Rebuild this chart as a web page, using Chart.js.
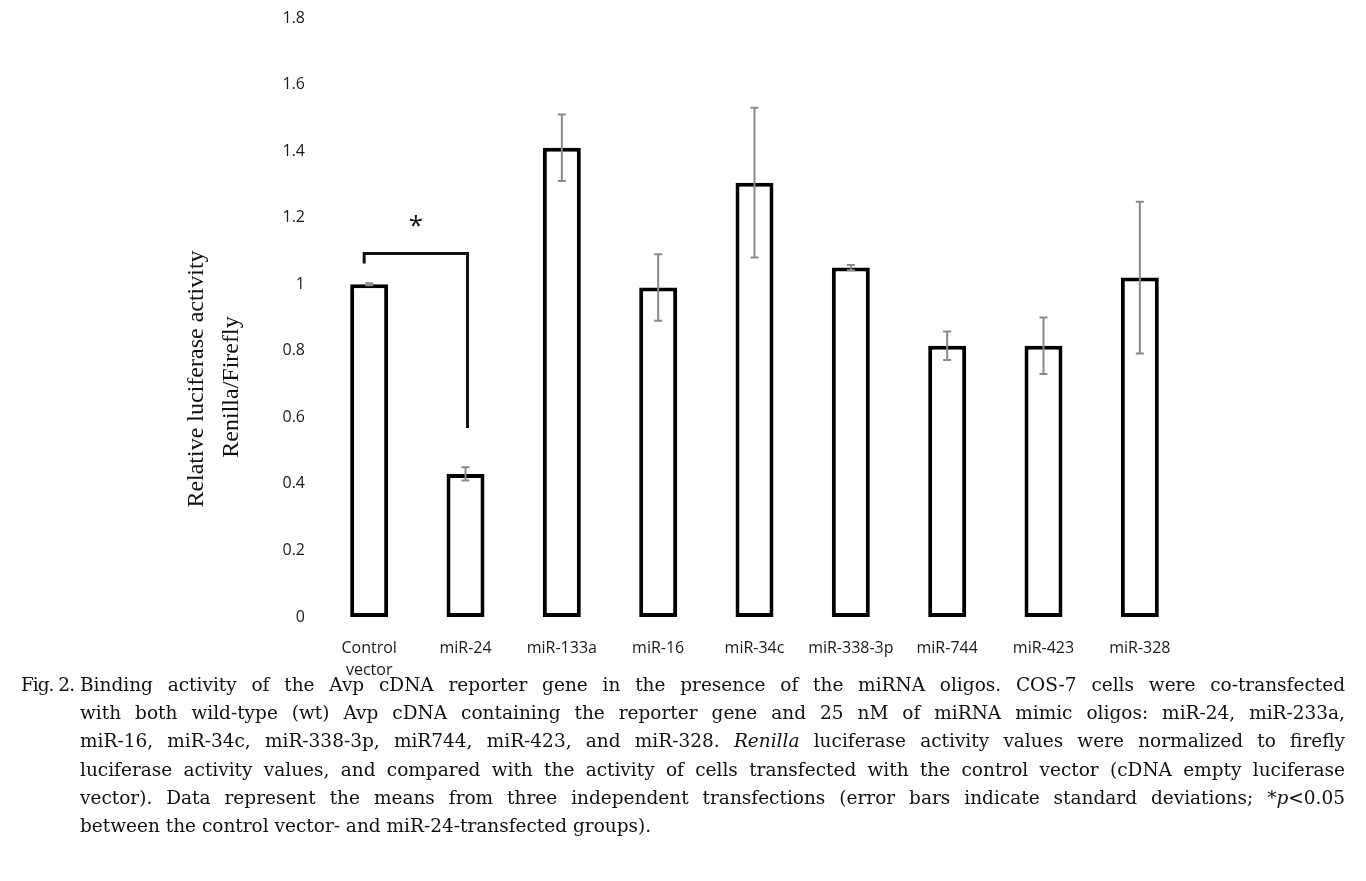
<!DOCTYPE html>
<html lang="en">
<head>
    <meta charset="UTF-8">
    <title>Fig. 2 Relative luciferase activity</title>
    <script src="https://cdn.jsdelivr.net/npm/chart.js"></script>
    <style>
        body { margin: 0; background: #fff; }
        #wrap { position: relative; width: 1366px; height: 881px; }
        #myChart { position: absolute; left: 0; top: 0; }
        #caption {
            position: absolute; left: 80px; top: 671px; width: 1265px;
            font-family: "DejaVu Serif", "Liberation Serif", serif;
            font-size: 18.5px; line-height: 28.2px; color: #111;
        }
        #caption div { white-space: nowrap; text-align: justify; text-align-last: justify; }
        #caption div.last { text-align-last: left; }
        #caption .fig { position: absolute; left: -59px; letter-spacing: -1px; }
    </style>
</head>
<body>
<div id="wrap">
    <canvas id="myChart" width="1366" height="680"></canvas>
    <div id="caption">
        <div><span class="fig">Fig. 2.</span>Binding activity of the Avp cDNA reporter gene in the presence of the miRNA oligos. COS-7 cells were co-transfected</div>
        <div>with both wild-type (wt) Avp cDNA containing the reporter gene and 25 nM of miRNA mimic oligos: miR-24, miR-233a,</div>
        <div>miR-16, miR-34c, miR-338-3p, miR744, miR-423, and miR-328. <i>Renilla</i> luciferase activity values were normalized to firefly</div>
        <div>luciferase activity values, and compared with the activity of cells transfected with the control vector (cDNA empty luciferase</div>
        <div>vector). Data represent the means from three independent transfections (error bars indicate standard deviations; *<i>p</i>&lt;0.05</div>
        <div class="last">between the control vector- and miR-24-transfected groups).</div>
    </div>
</div>

<script>
    const groups = [['Control', 'vector'], 'miR-24', 'miR-133a', 'miR-16', 'miR-34c', 'miR-338-3p', 'miR-744', 'miR-423', 'miR-328'];
    const meanActivity = [1.0, 0.43, 1.41, 0.99, 1.305, 1.05, 0.815, 0.815, 1.02];
    const sdActivity = [0.003, 0.02, 0.10, 0.10, 0.225, 0.008, 0.043, 0.085, 0.228];
    const yTitleLines = ['Relative luciferase activity', 'Renilla/Firefly'];

    // significance bracket between control (0) and miR-24 (1)
    const bracketTop = 1.092;
    const bracketLeftEnd = 1.062;
    const bracketRightEnd = 0.568;
    const starLevel = 1.182;

    const overlayPlugin = {
        id: 'overlay',
        afterDatasetsDraw(chart) {
            const c = chart.ctx;
            const xs = chart.scales.x;
            const ys = chart.scales.y;

            // error bars
            c.save();
            c.strokeStyle = '#8a8a8a';
            c.lineWidth = 2;
            meanActivity.forEach((m, i) => {
                const x = xs.getPixelForValue(i);
                const yHi = ys.getPixelForValue(m + sdActivity[i]);
                const yLo = ys.getPixelForValue(m - sdActivity[i]);
                c.beginPath();
                c.moveTo(x, yHi); c.lineTo(x, yLo);
                c.moveTo(x - 4, yHi); c.lineTo(x + 4, yHi);
                c.moveTo(x - 4, yLo); c.lineTo(x + 4, yLo);
                c.stroke();
            });
            c.restore();

            // bracket and star
            c.save();
            const x1 = xs.getPixelForValue(0) - 5;
            const x2 = xs.getPixelForValue(1) + 2;
            c.strokeStyle = '#111';
            c.lineWidth = 3;
            c.beginPath();
            c.moveTo(x1, ys.getPixelForValue(bracketLeftEnd));
            c.lineTo(x1, ys.getPixelForValue(bracketTop));
            c.lineTo(x2, ys.getPixelForValue(bracketTop));
            c.lineTo(x2, ys.getPixelForValue(bracketRightEnd));
            c.stroke();
            c.fillStyle = '#111';
            c.font = '26px "Open Sans"';
            c.textAlign = 'center';
            c.textBaseline = 'middle';
            c.fillText('*', (x1 + x2) / 2, ys.getPixelForValue(starLevel) + 3);
            c.restore();

            // y axis title
            [[yTitleLines[0], 197, 379], [yTitleLines[1], 232, 387]].forEach(([txt, tx, ty]) => {
                c.save();
                c.fillStyle = '#111';
                c.font = '24px "Liberation Serif"';
                c.textAlign = 'center';
                c.textBaseline = 'middle';
                c.translate(tx, ty);
                c.rotate(-Math.PI / 2);
                c.fillText(txt, 0, 0);
                c.restore();
            });
        }
    };

    // keep the plot area fixed: no automatic label padding
    function clearPadding(scale) {
        scale.paddingLeft = 0;
        scale.paddingRight = 0;
        scale.paddingTop = 0;
        scale.paddingBottom = 0;
    }

    const ctx = document.getElementById('myChart').getContext('2d');
    const myChart = new Chart(ctx, {
        type: 'bar',
        data: {
            labels: groups,
            datasets: [{
                data: meanActivity,
                backgroundColor: '#ffffff',
                borderColor: '#000000',
                borderWidth: 4,
                borderSkipped: false,
                categoryPercentage: 1,
                barPercentage: 0.394
            }]
        },
        options: {
            responsive: false,
            animation: false,
            layout: { autoPadding: false, padding: { top: 18, right: 178, bottom: 0, left: 0 } },
            plugins: {
                legend: { display: false },
                tooltip: { enabled: false }
            },
            scales: {
                x: {
                    grid: { display: false, drawTicks: false },
                    border: { display: false },
                    ticks: {
                        color: '#1a1a1a',
                        font: { family: 'Open Sans', size: 16, lineHeight: 1.375 },
                        padding: 20,
                        maxRotation: 0,
                        autoSkip: false
                    },
                    afterFit: (scale) => {
                        scale.height = 63;
                        clearPadding(scale);
                    }
                },
                y: {
                    min: 0,
                    max: 1.8,
                    grid: { display: false, drawTicks: false },
                    border: { display: false },
                    ticks: {
                        stepSize: 0.2,
                        color: '#1a1a1a',
                        font: { family: 'Open Sans', size: 16 },
                        padding: 16,
                        callback: (value) => String(Number(value.toFixed(1)))
                    },
                    afterFit: (scale) => {
                        scale.width = 321;
                        clearPadding(scale);
                    }
                }
            }
        },
        plugins: [overlayPlugin]
    });
</script>
</body>
</html>
